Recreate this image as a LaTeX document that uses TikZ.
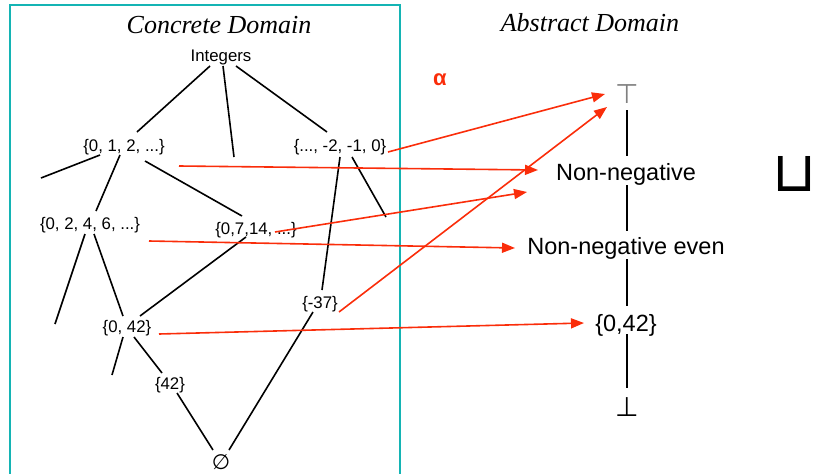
\documentclass[tikz,border=0pt]{standalone}
\usepackage{fontspec}
\setmainfont{Liberation Sans}
\newfontfamily\titlefont{Liberation Serif}
\newfontfamily\symfont{DejaVu Sans}
\usetikzlibrary{arrows.meta}
\definecolor{alphared}{RGB}{250,45,10}
\definecolor{boxcyan}{RGB}{20,180,180}
\tikzset{
  lbl/.style={inner sep=0pt, font=\fontsize{16.8}{18}\selectfont},
  abs/.style={inner sep=0pt, font=\fontsize{23.5}{25}\selectfont},
  ttl/.style={inner sep=0pt, font=\titlefont\itshape\fontsize{26}{28}\selectfont},
  lat/.style={draw=black, line width=1.6pt},
  alpha/.style={draw=alphared, line width=1.6pt, -{Triangle[length=13pt,width=10pt]}},
}
\begin{document}
\begin{tikzpicture}[x=1pt,y=-1pt]
\useasboundingbox (0,0) rectangle (815,474);
% cyan frame
\draw[boxcyan, line width=1.2pt] (10,480) -- (10,5) -- (400,5) -- (400,480);
% titles
\node[ttl] (tc) at (219,25) {Concrete Domain};
\node[ttl] (ta) at (590,23) {Abstract Domain};
% concrete nodes
\node[lbl] (int)   at (221,57)  {Integers};
\node[lbl] (s012)  at (124,147) {\{0, 1, 2, ...\}};
\node[lbl] (sneg)  at (340,147) {\{..., -2, -1, 0\}};
\node[lbl] (s0246) at (90,225)  {\{0, 2, 4, 6, ...\}};
\node[lbl] (s07)   at (256,230) {\{0,7,14, ...\}};
\node[lbl] (sm37)  at (320,304) {\{-37\}};
\node[lbl] (s042)  at (127,328) {\{0, 42\}};
\node[lbl] (s42)   at (170,385) {\{42\}};
\node[lbl, font=\symfont\fontsize{21}{22}\selectfont] (empty) at (221,462) {∅};
% dangling ends
\coordinate (d1) at (234,157);
\coordinate (d2) at (41,178);
\coordinate (d3) at (386,217);
\coordinate (d4) at (55,324);
\coordinate (d5) at (112,375);
% concrete lattice
\draw[lat] ([shift={(-11,9)}]int.center) -- ([shift={(13,-15)}]s012.center);
\draw[lat] ([shift={(2,9)}]int.center) -- (d1);
\draw[lat] ([shift={(15,9)}]int.center) -- ([shift={(-13,-15)}]sneg.center);
\draw[lat] ([shift={(-24,8)}]s012.center) -- (d2);
\draw[lat] ([shift={(-4,8)}]s012.center) -- ([shift={(6,-14)}]s0246.center);
\draw[lat] ([shift={(21,14)}]s012.center) -- ([shift={(-14,-14)}]s07.center);
\draw[lat] ([shift={(0,10)}]sneg.center) -- ([shift={(2,-14)}]sm37.center);
\draw[lat] ([shift={(12,10)}]sneg.center) -- (d3);
\draw[lat] ([shift={(-5,9)}]s0246.center) -- (d4);
\draw[lat] ([shift={(4,9)}]s0246.center) -- ([shift={(-4,-12)}]s042.center);
\draw[lat] ([shift={(-10,7)}]s07.center) -- ([shift={(13,-12)}]s042.center);
\draw[lat] ([shift={(-4,9)}]s042.center) -- (d5);
\draw[lat] ([shift={(7,9)}]s042.center) -- ([shift={(-8,-12)}]s42.center);
\draw[lat] ([shift={(7,8)}]s42.center) -- ([shift={(-8,-12)}]empty.center);
\draw[lat] ([shift={(-7,8)}]sm37.center) -- ([shift={(8,-12)}]empty.center);
% abstract nodes
\node[abs, text=black!50, font=\symfont\fontsize{27}{28}\selectfont] (top) at (627,94) {⊤};
\node[abs] (nn)   at (626,174) {Non-negative};
\node[abs] (nne)  at (626,248) {Non-negative even};
\node[abs] (a042) at (626,325) {\{0,42\}};
\node[abs, font=\symfont\fontsize{27}{28}\selectfont] (bot) at (627,407) {⊥};
% abstract lattice
\draw[lat] ([shift={(0,16)}]top.center) -- ([shift={(1,-18)}]nn.center);
\draw[lat] ([shift={(1,11)}]nn.center) -- ([shift={(1,-17)}]nne.center);
\draw[lat] ([shift={(1,11)}]nne.center) -- ([shift={(1,-19)}]a042.center);
\draw[lat] ([shift={(1,9)}]a042.center) -- ([shift={(0,-19)}]bot.center);
% join symbol
\node[inner sep=0pt] (join) at (794.5,174) {\makebox[31pt]{\resizebox{44pt}{35pt}{\symfont ⊔}}};
% alpha
\node[inner sep=0pt, text=alphared, font=\bfseries\fontsize{22}{23}\selectfont] (alph) at (440,80) {α};
% abstraction arrows
\draw[alpha] ([shift={(48,5)}]sneg.center) -- ([shift={(-22,0)}]top.center);
\draw[alpha] ([shift={(55,19)}]s012.center) -- ([shift={(-88,-4)}]nn.center);
\draw[alpha] ([shift={(19,2)}]s07.center) -- ([shift={(-99,18)}]nn.center);
\draw[alpha] ([shift={(59,16)}]s0246.center) -- ([shift={(-111,0)}]nne.center);
\draw[alpha] ([shift={(19,8)}]sm37.center) -- ([shift={(-20,13)}]top.center);
\draw[alpha] ([shift={(32,6)}]s042.center) -- ([shift={(-42,-2)}]a042.center);
\end{tikzpicture}
\end{document}
